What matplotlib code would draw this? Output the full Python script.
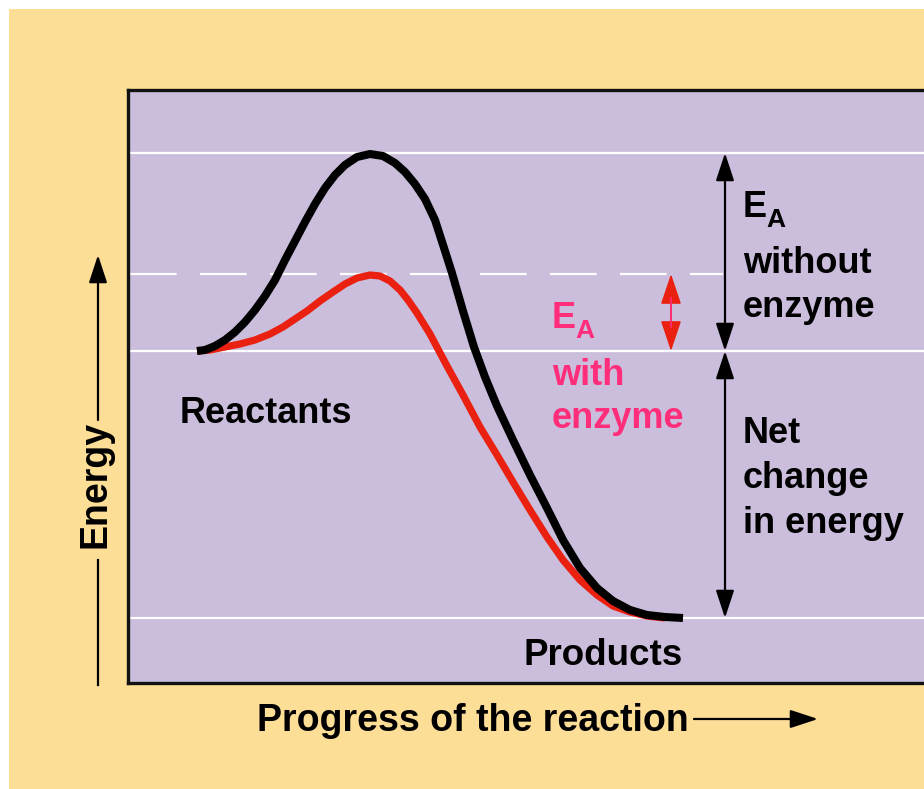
import numpy as np
import matplotlib
matplotlib.use("Agg")
import matplotlib.pyplot as plt
from matplotlib.patches import Rectangle
from matplotlib.lines import Line2D

# energy levels (arbitrary units)
E_products = 0.0
E_reactants = 26.7
E_with_enzyme = 34.4
E_without_enzyme = 46.5

# uncatalysed path (progress, energy)
black_x = [6.9, 7.7, 8.7, 9.7, 10.7, 11.7, 12.7, 13.7, 14.7, 15.7, 16.7, 17.7,
           18.7, 19.7, 20.7, 21.7, 22.9, 24.2, 25.5, 26.7, 27.7, 28.7, 29.7, 30.7,
           31.7, 32.4, 33.5, 34.6, 35.7, 36.9, 38.5, 40.2, 41.9, 43.5, 45.2, 46.9,
           48.5, 50.2, 51.9, 53.7, 55.5]
black_y = [26.7, 26.8, 27.2, 27.8, 28.6, 29.6, 30.8, 32.2, 33.8, 35.8, 37.7, 39.6,
           41.4, 43.0, 44.3, 45.3, 46.1, 46.4, 46.2, 45.5, 44.6, 43.4, 41.9, 39.8,
           36.7, 34.5, 30.7, 27.1, 24.1, 21.2, 17.8, 14.3, 11.0, 7.8, 5.0, 3.0,
           1.7, 0.8, 0.3, 0.1, 0.0]

# catalysed path
red_x = [6.9, 8.2, 9.7, 11.2, 12.7, 14.2, 15.5, 16.7, 17.9, 19.2, 20.5, 21.7,
         22.9, 24.2, 25.2, 26.2, 27.2, 28.0, 28.9, 30.2, 31.9, 33.5, 35.2, 36.9,
         38.5, 40.2, 41.9, 43.5, 45.2, 46.9, 48.5, 50.2, 51.9, 53.7]
red_y = [26.7, 26.8, 27.1, 27.4, 27.8, 28.4, 29.1, 29.9, 30.7, 31.7, 32.6, 33.4,
         34.0, 34.3, 34.2, 33.7, 32.8, 31.8, 30.5, 28.4, 25.2, 22.3, 19.1, 16.3,
         13.6, 10.8, 8.1, 5.8, 3.8, 2.3, 1.2, 0.6, 0.2, 0.0]

peach = '#FCDE97'
purple = '#CBBDDC'
pink = '#FF2D7A'
red = '#EA2010'

plt.rcParams['font.family'] = ['Liberation Sans', 'DejaVu Sans']
plt.rcParams['font.weight'] = 'bold'

W, H = 924, 789
fig = plt.figure(figsize=(W / 100, H / 100), dpi=100, facecolor='white')
fig.patches.append(Rectangle((9 / W, 0), 1, (H - 9) / H, transform=fig.transFigure,
                             facecolor=peach, edgecolor='none', zorder=-5))

ax = fig.add_axes([128 / W, (H - 683) / H, (W - 128) / W, (683 - 90) / H])
ax.set_zorder(1)
ax.set_facecolor(purple)
ax.set_xlim(0, 79.6)
ax.set_ylim(-6.5, 52.8)
ax.set_xticks([])
ax.set_yticks([])
for s in ['left', 'top', 'bottom']:
    ax.spines[s].set_linewidth(2.4)
    ax.spines[s].set_color('#111111')
ax.spines['right'].set_visible(False)

# energy level guide lines
for lvl in [E_without_enzyme, E_reactants, E_products]:
    ax.axhline(lvl, color='white', lw=1.6, zorder=1)
ax.plot([0.2, 59.5], [E_with_enzyme, E_with_enzyme], color='white', lw=1.6,
        linestyle=(0, (21.0, 10.5)), zorder=1)

# reaction curves
ax.plot(red_x, red_y, color=red, lw=5.2, solid_capstyle='butt',
        solid_joinstyle='round', zorder=3)
ax.plot(black_x, black_y, color='black', lw=5.8, solid_capstyle='butt',
        solid_joinstyle='round', zorder=4)

# double arrows
x_black = 59.7
x_red = 54.3
astyle = '<|-|>,head_length=0.85,head_width=0.28'
ax.annotate('', xy=(x_black, E_without_enzyme), xytext=(x_black, E_reactants),
            arrowprops=dict(arrowstyle=astyle, color='black', lw=1.6,
                            shrinkA=0, shrinkB=0, mutation_scale=20), zorder=5)
ax.annotate('', xy=(x_black, E_reactants), xytext=(x_black, E_products),
            arrowprops=dict(arrowstyle=astyle, color='black', lw=1.6,
                            shrinkA=0, shrinkB=0, mutation_scale=20), zorder=5)
ax.annotate('', xy=(x_red, E_with_enzyme), xytext=(x_red, E_reactants),
            arrowprops=dict(arrowstyle='<|-|>,head_length=0.95,head_width=0.32',
                            color=red, lw=1.2, shrinkA=0, shrinkB=0,
                            mutation_scale=20), zorder=5)
ax.plot([x_red, x_red], [E_with_enzyme - 2.4, E_reactants + 2.4], color=pink,
        lw=1.2, zorder=6)

# labels inside the plot
fs = 26
ax.text(5.2, 19.5, 'Reactants', fontsize=fs, va='baseline')
ax.text(39.5, -4.7, 'Products', fontsize=26.5, va='baseline')

ax.text(61.5, 40.1, 'E', fontsize=fs, va='baseline')
ax.text(63.8, 39.1, 'A', fontsize=19, va='baseline')
ax.text(61.5, 34.5, 'without', fontsize=fs, va='baseline')
ax.text(61.5, 30.1, 'enzyme', fontsize=fs, va='baseline')
ax.text(61.5, 17.5, 'Net', fontsize=fs, va='baseline')
ax.text(61.5, 13.0, 'change', fontsize=fs, va='baseline')
ax.text(61.5, 8.5, 'in energy', fontsize=fs, va='baseline')

ax.text(42.4, 29.0, 'E', fontsize=fs, va='baseline', color=pink)
ax.text(44.7, 28.0, 'A', fontsize=19, va='baseline', color=pink)
ax.text(42.4, 23.3, 'with', fontsize=fs, va='baseline', color=pink)
ax.text(42.4, 19.0, 'enzyme', fontsize=fs, va='baseline', color=pink)

# axis titles with arrows
fig.text(257 / W, (H - 731) / H, 'Progress of the reaction', fontsize=27,
         va='baseline', ha='left')
fig_ax = dict(xycoords='figure pixels', textcoords='figure pixels')
ax.annotate('', xy=(818, H - 719), xytext=(694, H - 719), **fig_ax,
            arrowprops=dict(arrowstyle='-|>,head_length=0.85,head_width=0.28',
                            color='black', lw=1.6, shrinkA=0, shrinkB=0,
                            mutation_scale=20), annotation_clip=False)

fig.text(95 / W, (H - 484) / H, 'Energy', fontsize=27, rotation=90,
         ha='center', va='center')
fig.add_artist(Line2D([98 / W, 98 / W], [(H - 685) / H, (H - 560) / H],
                      color='black', lw=1.6))
ax.annotate('', xy=(98, H - 255), xytext=(98, H - 420), **fig_ax,
            arrowprops=dict(arrowstyle='-|>,head_length=0.85,head_width=0.28',
                            color='black', lw=1.6, shrinkA=0, shrinkB=0,
                            mutation_scale=20), annotation_clip=False)

fig.savefig('out.png', dpi=100, facecolor=fig.get_facecolor())
